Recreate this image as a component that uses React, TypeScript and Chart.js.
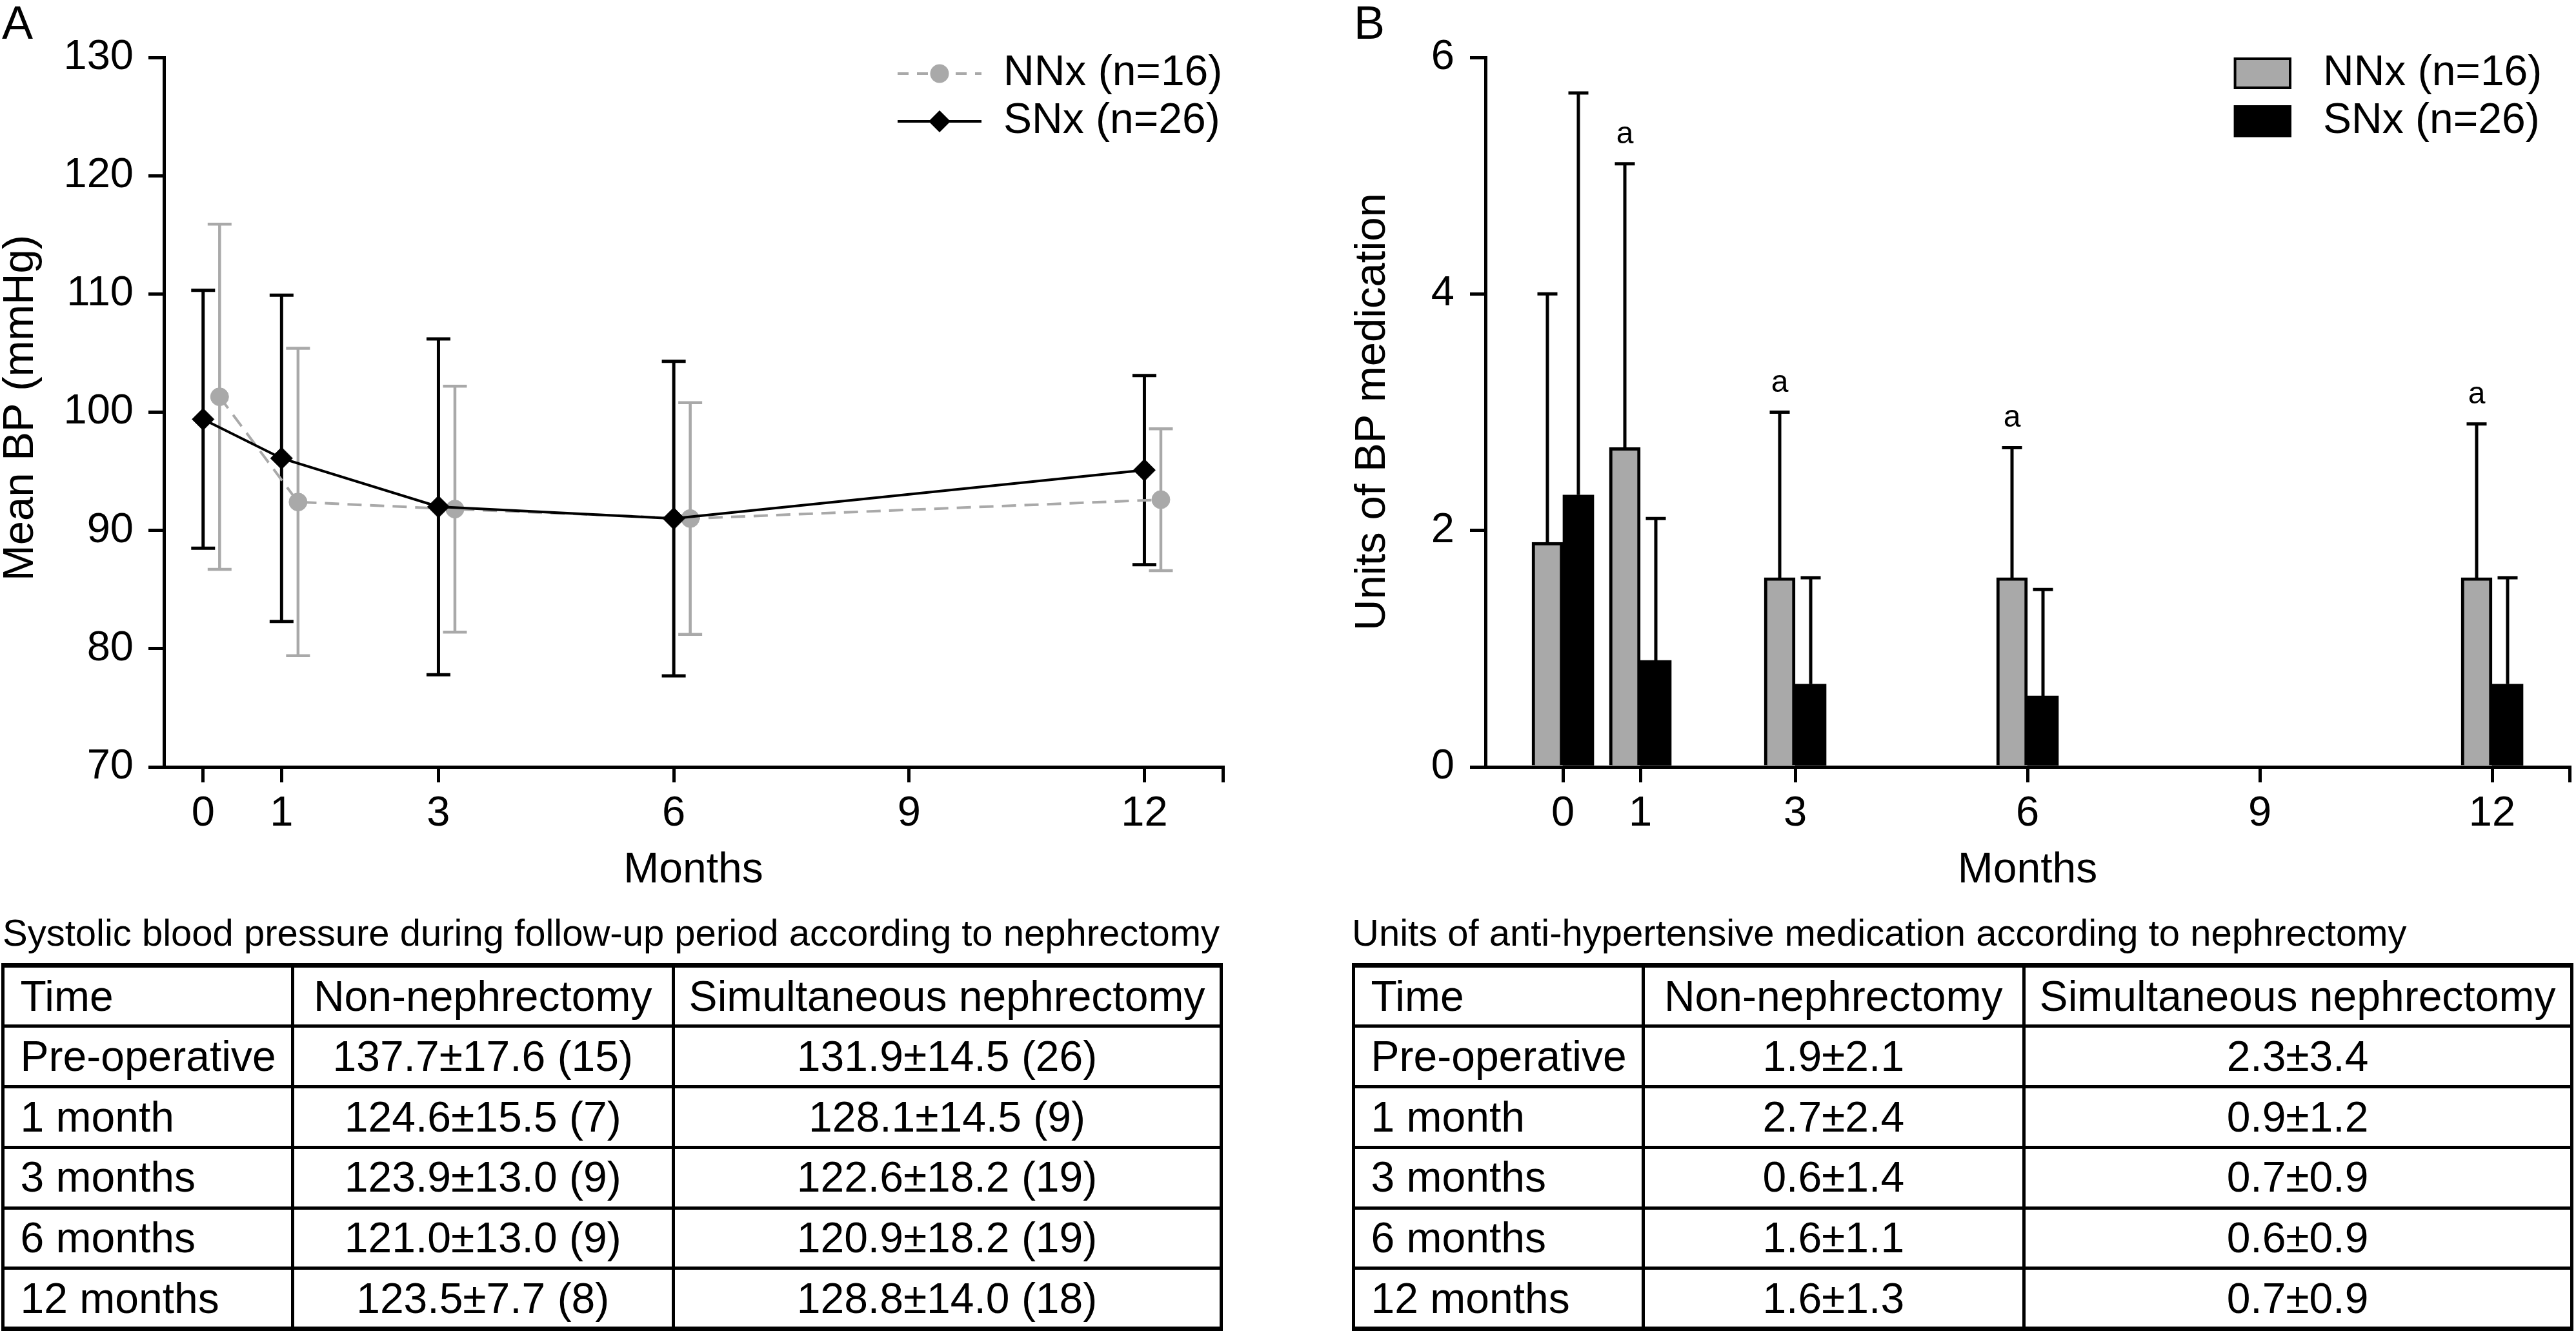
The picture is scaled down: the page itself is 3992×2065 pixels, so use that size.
import React, { useEffect, useRef } from 'react';
import { Chart, registerables } from 'chart.js';
Chart.register(...registerables);

const FONT = "'Liberation Sans', Arial, Helvetica, sans-serif";
const GRAY = '#a9a9a9';

// ---------- Panel A data (mean BP, mmHg) ----------
const monthsA = [0, 1, 3, 6, 12];
const nnxMeanBP = [101.3, 92.4, 91.8, 91.0, 92.6];
const nnxSdBP = [14.6, 13.0, 10.4, 9.8, 6.0];
const snxMeanBP = [99.4, 96.1, 92.0, 91.0, 95.1];
const snxSdBP = [10.9, 13.8, 14.2, 13.3, 8.0];
const nnxNudge = 0.21; // NNx points drawn slightly right of SNx
const xTickValues = [0, 1, 3, 6, 9, 12, 13];
const xTickLabelled = [0, 1, 3, 6, 9, 12];

// ---------- Panel B data (units of BP medication) ----------
const monthsB = [0, 1, 3, 6, 12];
const nnxUnits = [1.9, 2.7, 1.6, 1.6, 1.6];
const nnxUnitsSd = [2.1, 2.4, 1.4, 1.1, 1.3];
const snxUnits = [2.3, 0.9, 0.7, 0.6, 0.7];
const snxUnitsSd = [3.4, 1.2, 0.9, 0.9, 0.9];
const sigMarks = ['', 'a', 'a', 'a', 'a'];

// ---------- Legends / titles ----------
const nnxLabel = 'NNx (n=16)';
const snxLabel = 'SNx (n=26)';
const xTitle = 'Months';
const yTitleA = 'Mean BP (mmHg)';
const yTitleB = 'Units of BP medication';

// ---------- Tables ----------
const tableHeader = ['Time', 'Non-nephrectomy', 'Simultaneous nephrectomy'];
const tableTimes = ['Pre-operative', '1 month', '3 months', '6 months', '12 months'];
const sbpNonNx = ['137.7±17.6 (15)', '124.6±15.5 (7)', '123.9±13.0 (9)', '121.0±13.0 (9)', '123.5±7.7 (8)'];
const sbpSimNx = ['131.9±14.5 (26)', '128.1±14.5 (9)', '122.6±18.2 (19)', '120.9±18.2 (19)', '128.8±14.0 (18)'];
const medNonNx = ['1.9±2.1', '2.7±2.4', '0.6±1.4', '1.6±1.1', '1.6±1.3'];
const medSimNx = ['2.3±3.4', '0.9±1.2', '0.7±0.9', '0.6±0.9', '0.7±0.9'];
const captionA = 'Systolic blood pressure during follow-up period according to nephrectomy';
const captionB = 'Units of anti-hypertensive medication according to nephrectomy';

// ---------- layout (positions / sizes only) ----------
const tableRowsY = [1495.5, 1589.8, 1683.6, 1777.3, 1871.1, 1964.9, 2058.7];
const tableAColsX = [4.5, 453.5, 1043, 1892];
const tableBColsX = [2097.5, 2546.5, 3136, 3985];

const tickFont = { family: FONT, size: 65 };
const gridOpts = {
  display: true,
  drawOnChartArea: false,
  drawTicks: true,
  tickLength: 24,
  tickWidth: 5,
  tickColor: '#000',
  color: '#000',
  lineWidth: 5,
  offset: false,
};
const borderOpts = { display: true, color: '#000', width: 5 };

function xScale(min: number, max: number) {
  return {
    type: 'linear',
    min,
    max,
    offset: false,
    afterBuildTicks: (s: any) => {
      s.ticks = xTickValues.map((v) => ({ value: v }));
    },
    afterFit: (s: any) => {
      s.height = 212;
    },
    ticks: {
      autoSkip: false,
      maxRotation: 0,
      minRotation: 0,
      padding: 10,
      color: '#000',
      font: tickFont,
      callback: (v: any) => (xTickLabelled.includes(Number(v)) ? String(v) : ''),
    },
    grid: gridOpts,
    border: borderOpts,
  };
}

function axisTitles(yBaselineX: number, yCenterY: number, yText: string) {
  return {
    id: 'axisTitles',
    afterDraw(chart: any) {
      const { ctx, chartArea } = chart;
      ctx.save();
      ctx.fillStyle = '#000';
      ctx.textAlign = 'center';
      ctx.textBaseline = 'alphabetic';
      ctx.font = `66px ${FONT}`;
      ctx.fillText(xTitle, (chartArea.left + chartArea.right) / 2, 1367);
      ctx.translate(yBaselineX, yCenterY);
      ctx.rotate(-Math.PI / 2);
      ctx.font = `67px ${FONT}`;
      ctx.fillText(yText, 0, 0);
      ctx.restore();
    },
  };
}

const errorBarsA = {
  id: 'errorBarsA',
  beforeDatasetsDraw(chart: any) {
    const { ctx } = chart;
    const y = chart.scales.y;
    const series = [
      { idx: 0, mean: snxMeanBP, sd: snxSdBP, color: '#000', w: 5 },
      { idx: 1, mean: nnxMeanBP, sd: nnxSdBP, color: GRAY, w: 4.5 },
    ];
    series.forEach((s) => {
      const meta = chart.getDatasetMeta(s.idx);
      ctx.save();
      ctx.strokeStyle = s.color;
      ctx.lineWidth = s.w;
      ctx.lineCap = 'butt';
      meta.data.forEach((pt: any, i: number) => {
        const px = pt.x;
        const top = y.getPixelForValue(s.mean[i] + s.sd[i]);
        const bot = y.getPixelForValue(s.mean[i] - s.sd[i]);
        const h = 18.5;
        ctx.beginPath();
        ctx.moveTo(px, top);
        ctx.lineTo(px, bot);
        ctx.moveTo(px - h, top);
        ctx.lineTo(px + h, top);
        ctx.moveTo(px - h, bot);
        ctx.lineTo(px + h, bot);
        ctx.stroke();
      });
      ctx.restore();
    });
  },
};

const legendA = {
  id: 'legendA',
  afterDraw(chart: any) {
    const { ctx } = chart;
    ctx.save();
    // NNx
    ctx.strokeStyle = GRAY;
    ctx.lineWidth = 4;
    ctx.setLineDash([17, 13]);
    ctx.beginPath();
    ctx.moveTo(1391, 114);
    ctx.lineTo(1521, 114);
    ctx.stroke();
    ctx.setLineDash([]);
    ctx.fillStyle = GRAY;
    ctx.beginPath();
    ctx.arc(1456, 114, 14.5, 0, Math.PI * 2);
    ctx.fill();
    // SNx
    ctx.strokeStyle = '#000';
    ctx.beginPath();
    ctx.moveTo(1391, 188);
    ctx.lineTo(1521, 188);
    ctx.stroke();
    ctx.fillStyle = '#000';
    ctx.beginPath();
    ctx.moveTo(1456 - 17, 188);
    ctx.lineTo(1456, 188 - 17);
    ctx.lineTo(1456 + 17, 188);
    ctx.lineTo(1456, 188 + 17);
    ctx.closePath();
    ctx.fill();
    ctx.font = `66px ${FONT}`;
    ctx.textAlign = 'left';
    ctx.textBaseline = 'middle';
    ctx.fillText(nnxLabel, 1555, 114);
    ctx.fillText(snxLabel, 1555, 188);
    ctx.restore();
  },
};

const errorBarsB = {
  id: 'errorBarsB',
  afterDatasetsDraw(chart: any) {
    const { ctx } = chart;
    const y = chart.scales.y;
    const series = [
      { idx: 0, mean: nnxUnits, sd: nnxUnitsSd },
      { idx: 1, mean: snxUnits, sd: snxUnitsSd },
    ];
    ctx.save();
    ctx.strokeStyle = '#000';
    ctx.lineWidth = 5;
    ctx.lineCap = 'butt';
    series.forEach((s) => {
      const meta = chart.getDatasetMeta(s.idx);
      meta.data.forEach((bar: any, i: number) => {
        const px = bar.x;
        const top = y.getPixelForValue(s.mean[i] + s.sd[i]);
        const h = 15.5;
        ctx.beginPath();
        ctx.moveTo(px, bar.y);
        ctx.lineTo(px, top);
        ctx.moveTo(px - h, top);
        ctx.lineTo(px + h, top);
        ctx.stroke();
      });
    });
    // significance marks above NNx error bars
    const meta0 = chart.getDatasetMeta(0);
    ctx.fillStyle = '#000';
    ctx.font = `48px ${FONT}`;
    ctx.textAlign = 'center';
    ctx.textBaseline = 'alphabetic';
    meta0.data.forEach((bar: any, i: number) => {
      if (!sigMarks[i]) return;
      const top = y.getPixelForValue(nnxUnits[i] + nnxUnitsSd[i]);
      ctx.fillText(sigMarks[i], bar.x, top - 32);
    });
    ctx.restore();
  },
};

const legendB = {
  id: 'legendB',
  afterDraw(chart: any) {
    const { ctx } = chart;
    ctx.save();
    ctx.fillStyle = GRAY;
    ctx.fillRect(1463.6, 91, 85.4, 45);
    ctx.strokeStyle = '#000';
    ctx.lineWidth = 4;
    ctx.strokeRect(1463.6, 91, 85.4, 45);
    ctx.fillStyle = '#000';
    ctx.fillRect(1461.6, 163, 89.4, 49.5);
    ctx.font = `66px ${FONT}`;
    ctx.textAlign = 'left';
    ctx.textBaseline = 'middle';
    ctx.fillText(nnxLabel, 1600, 113.5);
    ctx.fillText(snxLabel, 1600, 188);
    ctx.restore();
  },
};

function DataTable(props: {
  caption: string;
  captionLeft: number;
  xs: number[];
  ys: number[];
  col1: string[];
  col2: string[];
}) {
  const { caption, captionLeft, xs, ys, col1, col2 } = props;
  const items: any[] = [];
  items.push(
    <div
      key="cap"
      style={{
        position: 'absolute',
        left: captionLeft,
        top: 1416,
        fontSize: 58,
        lineHeight: '58px',
        whiteSpace: 'nowrap',
      }}
    >
      {caption}
    </div>
  );
  ys.forEach((y, i) => {
    const w = i === 0 || i === ys.length - 1 ? 7 : 5;
    items.push(
      <div
        key={'h' + i}
        style={{
          position: 'absolute',
          left: xs[0] - 2.5,
          top: y - w / 2,
          width: xs[xs.length - 1] - xs[0] + 5,
          height: w,
          background: '#000',
        }}
      />
    );
  });
  xs.forEach((x, i) => {
    items.push(
      <div
        key={'v' + i}
        style={{
          position: 'absolute',
          left: x - 2.5,
          top: ys[0] - 3.5,
          width: 5,
          height: ys[ys.length - 1] - ys[0] + 7,
          background: '#000',
        }}
      />
    );
  });
  const rows = [tableHeader, ...tableTimes.map((t, i) => [t, col1[i], col2[i]])];
  rows.forEach((r, ri) => {
    r.forEach((txt, ci) => {
      const h = ys[ri + 1] - ys[ri];
      items.push(
        <div
          key={`c${ri}-${ci}`}
          style={{
            position: 'absolute',
            left: xs[ci],
            top: ys[ri],
            width: xs[ci + 1] - xs[ci],
            height: h,
            lineHeight: `${h}px`,
            fontSize: 66,
            textAlign: ci === 0 ? 'left' : 'center',
            paddingLeft: ci === 0 ? 27 : 0,
            boxSizing: 'border-box',
            whiteSpace: 'nowrap',
          }}
        >
          {txt}
        </div>
      );
    });
  });
  return <>{items}</>;
}

export default function App() {
  const refA = useRef<HTMLCanvasElement>(null);
  const refB = useRef<HTMLCanvasElement>(null);

  useEffect(() => {
    document.body.style.margin = '0';
    document.body.style.overflow = 'hidden';
    Chart.defaults.font.family = FONT;
    Chart.defaults.color = '#000';

    const chartA = new Chart(refA.current as HTMLCanvasElement, {
      type: 'line',
      data: {
        datasets: [
          {
            label: snxLabel,
            data: monthsA.map((m, i) => ({ x: m, y: snxMeanBP[i] })),
            borderColor: '#000',
            backgroundColor: '#000',
            borderWidth: 4,
            tension: 0,
            pointStyle: 'rectRot',
            pointRadius: 17,
            pointBackgroundColor: '#000',
            pointBorderColor: '#000',
            pointBorderWidth: 1,
          },
          {
            label: nnxLabel,
            data: monthsA.map((m, i) => ({ x: m + nnxNudge, y: nnxMeanBP[i] })),
            borderColor: GRAY,
            backgroundColor: GRAY,
            borderWidth: 4,
            borderDash: [22, 13],
            tension: 0,
            pointStyle: 'circle',
            pointRadius: 14,
            pointBackgroundColor: GRAY,
            pointBorderColor: GRAY,
            pointBorderWidth: 1,
          },
        ],
      },
      options: {
        responsive: false,
        animation: false,
        devicePixelRatio: 1,
        events: [],
        layout: { padding: { top: 89, right: 105, left: 0, bottom: 0 } },
        plugins: {
          legend: { display: false },
          tooltip: { enabled: false },
          title: { display: false },
        },
        scales: {
          x: xScale(-0.5, 13),
          y: {
            type: 'linear',
            min: 70,
            max: 130,
            afterFit: (s: any) => {
              s.width = 254;
            },
            ticks: { stepSize: 10, padding: 23, color: '#000', font: tickFont },
            grid: gridOpts,
            border: borderOpts,
          },
        },
      } as any,
      plugins: [errorBarsA, legendA, axisTitles(51, 632, yTitleA)],
    } as any);

    const chartB = new Chart(refB.current as HTMLCanvasElement, {
      type: 'bar',
      data: {
        datasets: [
          {
            label: nnxLabel,
            data: monthsB.map((m, i) => ({ x: m, y: nnxUnits[i] })),
            backgroundColor: GRAY,
            borderColor: '#000',
            borderWidth: 5,
            barThickness: 48,
          },
          {
            label: snxLabel,
            data: monthsB.map((m, i) => ({ x: m, y: snxUnits[i] })),
            backgroundColor: '#000',
            borderColor: '#000',
            borderWidth: 0,
            barThickness: 48,
          },
        ],
      },
      options: {
        responsive: false,
        animation: false,
        devicePixelRatio: 1,
        events: [],
        layout: { padding: { top: 89, right: 4, left: 0, bottom: 0 } },
        plugins: {
          legend: { display: false },
          tooltip: { enabled: false },
          title: { display: false },
        },
        scales: {
          x: xScale(-1, 13),
          y: {
            type: 'linear',
            min: 0,
            max: 6,
            afterFit: (s: any) => {
              s.width = 302;
            },
            ticks: { stepSize: 2, padding: 24, color: '#000', font: tickFont },
            grid: gridOpts,
            border: borderOpts,
          },
        },
      } as any,
      plugins: [errorBarsB, legendB, axisTitles(146, 638, yTitleB)],
    } as any);

    return () => {
      chartA.destroy();
      chartB.destroy();
    };
  }, []);

  return (
    <div
      style={{
        position: 'absolute',
        left: 0,
        top: 0,
        width: 3992,
        height: 2065,
        background: '#fff',
        color: '#000',
        fontFamily: FONT,
        overflow: 'hidden',
      }}
    >
      <canvas
        ref={refA}
        width={2000}
        height={1400}
        style={{ position: 'absolute', left: 0, top: 0, width: 2000, height: 1400 }}
      />
      <canvas
        ref={refB}
        width={1992}
        height={1400}
        style={{ position: 'absolute', left: 2000, top: 0, width: 1992, height: 1400 }}
      />
      <div style={{ position: 'absolute', left: 3, top: -1, fontSize: 72, lineHeight: '72px' }}>A</div>
      <div style={{ position: 'absolute', left: 2098, top: -1, fontSize: 72, lineHeight: '72px' }}>B</div>
      <DataTable
        caption={captionA}
        captionLeft={4}
        xs={tableAColsX}
        ys={tableRowsY}
        col1={sbpNonNx}
        col2={sbpSimNx}
      />
      <DataTable
        caption={captionB}
        captionLeft={2095}
        xs={tableBColsX}
        ys={tableRowsY}
        col1={medNonNx}
        col2={medSimNx}
      />
    </div>
  );
}
